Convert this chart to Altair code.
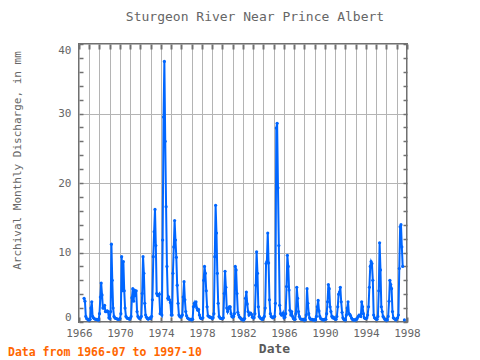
import altair as alt
import pandas as pd

FONT = "DejaVu Sans Mono"
TITLE = "Sturgeon River Near Prince Albert"
FOOTNOTE = "Data from 1966-07 to 1997-10"

# Monthly discharge (mm); 1966 starts in July, 1997 ends in October
v1966 = [3.4, 3.0, 0.8, 0.5, 0.4, 0.3]
v1967 = [0.3, 0.4, 2.0, 2.9, 0.8, 0.6, 0.5, 0.4, 0.4, 0.4, 0.3, 0.3]
v1968 = [1.2, 3.6, 5.6, 3.9, 2.0, 2.0, 2.4, 1.5, 1.5, 1.6, 1.5, 0.6]
v1969 = [0.5, 1.5, 11.2, 6.0, 2.0, 0.8, 0.6, 0.5, 0.5, 0.4, 0.4, 0.4]
v1970 = [0.5, 1.2, 9.4, 4.5, 8.7, 4.5, 2.0, 0.8, 0.6, 0.5, 0.5, 0.4]
v1971 = [0.5, 0.8, 3.5, 4.8, 3.0, 4.6, 3.8, 4.5, 1.5, 0.8, 0.6, 0.5]
v1972 = [0.6, 0.8, 4.1, 9.4, 7.0, 2.7, 1.0, 0.7, 0.5, 0.4, 0.5, 0.6]
v1973 = [0.5, 0.8, 3.2, 9.4, 13.0, 16.2, 11.0, 4.1, 3.8, 3.8, 4.0, 1.2]
v1974 = [1.2, 1.0, 11.8, 29.5, 37.5, 26.0, 16.6, 8.0, 3.4, 3.6, 3.2, 2.8]
v1975 = [1.0, 1.0, 7.0, 10.8, 14.6, 11.8, 9.3, 5.3, 2.7, 1.0, 0.8, 0.7]
v1976 = [0.8, 1.0, 3.6, 5.8, 3.2, 1.5, 0.9, 0.6, 0.5, 0.4, 0.4, 0.4]
v1977 = [0.3, 0.4, 2.2, 2.7, 2.3, 2.9, 2.0, 1.7, 1.8, 1.0, 0.6, 0.5]
v1978 = [0.5, 0.6, 6.0, 8.0, 7.0, 4.5, 2.2, 0.9, 0.8, 0.7, 0.7, 0.6]
v1979 = [0.5, 0.6, 1.2, 9.4, 16.8, 12.8, 7.0, 2.7, 0.8, 0.6, 0.5, 0.5]
v1980 = [0.5, 0.6, 4.1, 7.3, 5.0, 2.0, 1.5, 1.9, 2.2, 2.2, 1.2, 0.8]
v1981 = [0.7, 0.8, 1.2, 8.0, 7.5, 4.1, 1.4, 1.0, 0.7, 0.6, 0.4, 0.4]
v1982 = [0.3, 0.3, 0.5, 3.4, 4.3, 2.6, 1.5, 1.0, 1.2, 1.3, 1.1, 0.7]
v1983 = [0.6, 0.6, 1.2, 5.3, 10.1, 7.0, 2.2, 0.8, 0.6, 0.5, 0.4, 0.4]
v1984 = [0.6, 0.8, 2.0, 8.4, 8.7, 12.8, 8.5, 3.2, 1.2, 0.8, 0.7, 0.6]
v1985 = [0.7, 0.8, 2.7, 27.9, 28.6, 19.3, 11.0, 2.4, 1.2, 1.0, 1.0, 1.3]
v1986 = [0.6, 0.7, 1.2, 5.1, 9.6, 8.0, 4.6, 1.7, 1.0, 1.5, 0.8, 0.5]
v1987 = [0.4, 0.4, 1.2, 5.0, 3.4, 1.5, 0.8, 0.5, 0.4, 0.4, 0.4, 0.3]
v1988 = [0.3, 0.3, 1.0, 4.8, 2.7, 1.2, 0.6, 0.4, 0.4, 0.4, 0.3, 0.3]
v1989 = [0.3, 0.3, 0.8, 2.2, 3.1, 1.6, 0.8, 0.5, 0.4, 0.4, 0.3, 0.3]
v1990 = [0.4, 0.4, 1.2, 2.9, 5.4, 4.8, 2.2, 1.5, 0.8, 0.6, 0.7, 0.5]
v1991 = [0.4, 0.4, 0.8, 2.2, 4.0, 4.3, 5.0, 2.9, 1.4, 0.6, 0.4, 0.3]
v1992 = [0.3, 1.0, 2.0, 2.9, 1.2, 1.1, 0.9, 0.6, 0.4, 0.3, 0.3, 0.3]
v1993 = [0.3, 0.4, 0.6, 0.8, 1.0, 0.9, 0.8, 2.9, 2.2, 1.2, 0.6, 0.5]
v1994 = [0.5, 0.6, 1.0, 2.2, 5.0, 8.0, 8.7, 8.4, 6.0, 1.0, 0.6, 0.5]
v1995 = [0.4, 0.4, 0.8, 4.5, 11.4, 7.5, 2.2, 1.5, 0.8, 0.6, 0.4, 0.3]
v1996 = [0.3, 0.3, 0.8, 3.0, 6.0, 5.4, 4.8, 1.5, 0.6, 0.5, 0.4, 0.3]
v1997 = [0.5, 0.6, 1.0, 7.7, 13.7, 14.0, 10.8, 8.0, None, 0.3]

series = [v1966, v1967, v1968, v1969, v1970, v1971, v1972, v1973, v1974,
          v1975, v1976, v1977, v1978, v1979, v1980, v1981, v1982, v1983,
          v1984, v1985, v1986, v1987, v1988, v1989, v1990, v1991, v1992,
          v1993, v1994, v1995, v1996, v1997]
years = list(range(1966, 1998))

dates, vals = [], []
for yr, arr in zip(years, series):
    start = 7 if yr == 1966 else 1
    for i, v in enumerate(arr):
        dates.append(f"{yr}-{start + i:02d}-01")
        vals.append(v)
df = pd.DataFrame({"date": dates, "discharge": vals})


def dt(y):
    return alt.DateTime(year=y, month=1, date=1, utc=True)


x_scale = alt.Scale(type="utc", domain=[dt(1966), dt(1998)])
y_scale = alt.Scale(domain=[0, 40], nice=False)
year_ticks = [dt(y) for y in range(1966, 1999)]
y_ticks = list(range(0, 41, 2))

GRID = "#b4b4b4"
TICK = "#707070"
LABEL = "#666666"
BLUE = "#0066ff"

x_axis = alt.Axis(
    values=year_ticks,
    labelExpr="utcyear(datum.value) % 4 == 2 ? utcFormat(datum.value, '%Y') : ''",
    labelOverlap=False, labelFlush=False,
    grid=True, gridColor=GRID, gridWidth=1,
    domain=False, ticks=True, tickSize={"expr": "-5"}, tickColor=TICK, tickWidth=2,
    labelPadding=10, labelFont=FONT, labelFontSize=11, labelColor=LABEL,
    title="Date", titleFont=FONT, titleFontSize=13, titleFontWeight="bold",
    titleColor="#5a5a5a", titleX=195, titleY=26, titleAlign="center",
    titleBaseline="middle", titleAngle=0,
)
y_axis = alt.Axis(
    values=y_ticks,
    labelExpr="datum.value % 10 == 0 ? datum.label : ''",
    labelOverlap=False, labelFlush=True,
    grid=True, gridColor=GRID, gridWidth=1,
    gridOpacity={"condition": {"test": "datum.value % 10 == 0", "value": 1}, "value": 0},
    domain=False, ticks=True, tickSize={"expr": "-4"}, tickColor=TICK, tickWidth=1.5,
    labelPadding=12, labelFont=FONT, labelFontSize=11, labelColor=LABEL,
    title="Archival Monthly Discharge, in mm", titleFont=FONT, titleFontSize=11,
    titleFontWeight="normal", titleColor=LABEL, titleX=-62, titleY=116,
    titleAngle=270, titleAlign="center", titleBaseline="middle",
)

base = alt.Chart(df)

line = base.mark_line(color=BLUE, strokeWidth=2,
                      invalid="break-paths-show-domains").encode(
    x=alt.X("date:T", scale=x_scale, axis=x_axis),
    y=alt.Y("discharge:Q", scale=y_scale, axis=y_axis),
)

points = base.mark_point(filled=True, size=10, color=BLUE, opacity=1).encode(
    x=alt.X("date:T", scale=x_scale, axis=None),
    y=alt.Y("discharge:Q", scale=y_scale, axis=None),
)

mirror = base.mark_line(opacity=0).encode(
    x=alt.X("date:T", scale=x_scale, axis=alt.Axis(
        orient="top", values=year_ticks, labels=False, grid=False, domain=False,
        tickSize={"expr": "-5"}, tickColor=TICK, tickWidth=2, title="")),
    y=alt.Y("discharge:Q", scale=y_scale, axis=alt.Axis(
        orient="right", values=y_ticks, labels=False, grid=False, domain=False,
        tickSize={"expr": "-4"}, tickColor=TICK, tickWidth=1.5, title="")),
)

title_text = alt.Chart(pd.DataFrame({"t": [TITLE]})).mark_text(
    font=FONT, fontSize=13, color="#666666", align="center", baseline="middle"
).encode(text="t:N", x=alt.value(176), y=alt.value(-27))

foot_text = alt.Chart(pd.DataFrame({"t": [FOOTNOTE]})).mark_text(
    font=FONT, fontSize=11.5, fontWeight="bold", color="#ff6600",
    align="left", baseline="middle"
).encode(text="t:N", x=alt.value(-71), y=alt.value(309))

chart = alt.layer(line, points, mirror, title_text, foot_text).resolve_axis(
    x="independent", y="independent"
).properties(
    width=328, height=278,
    autosize=alt.AutoSizeParams(type="none"),
    padding={"left": 71, "top": 36, "right": 65, "bottom": 38},
).configure_view(stroke="#707070", strokeWidth=2)

chart.save("out.html", embed_options={"renderer": "svg", "actions": False})
